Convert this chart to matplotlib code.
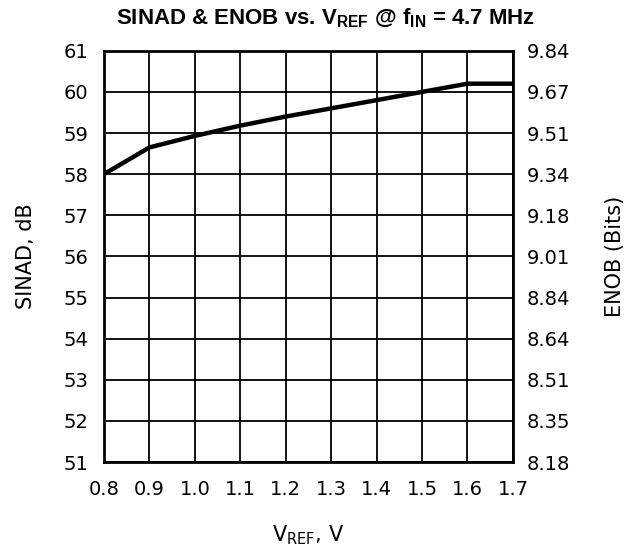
import matplotlib
matplotlib.use('Agg')
import matplotlib.pyplot as plt

# Data
vref = [0.8, 0.9, 1.0, 1.1, 1.2, 1.3, 1.4, 1.5, 1.6, 1.7]
sinad = [58.0, 58.65, 58.93, 59.18, 59.4, 59.6, 59.8, 60.0, 60.2, 60.2]

x_ticks = [0.8, 0.9, 1.0, 1.1, 1.2, 1.3, 1.4, 1.5, 1.6, 1.7]
x_tick_labels = ['0.8', '0.9', '1.0', '1.1', '1.2', '1.3', '1.4', '1.5', '1.6', '1.7']
sinad_ticks = [51, 52, 53, 54, 55, 56, 57, 58, 59, 60, 61]
enob_labels = ['8.18', '8.35', '8.51', '8.64', '8.84', '9.01', '9.18', '9.34', '9.51', '9.67', '9.84']

plt.rcParams['mathtext.fontset'] = 'custom'
plt.rcParams['mathtext.rm'] = 'DejaVu Sans'
plt.rcParams['mathtext.bf'] = 'Liberation Sans:bold'

tick_font = dict(family='DejaVu Sans', size=14)
label_font = dict(family='DejaVu Sans', size=15)

fig = plt.figure(figsize=(6.41, 5.52), dpi=100)
ax = fig.add_axes([0.1622, 0.163, 0.638, 0.745])

ax.plot(vref, sinad, color='black', linewidth=3.2, solid_capstyle='butt', zorder=3)

ax.set_xlim(0.8, 1.7)
ax.set_ylim(51, 61)
ax.set_xticks(x_ticks)
ax.set_xticklabels(x_tick_labels, fontdict=tick_font)
ax.set_yticks(sinad_ticks)
ax.set_yticklabels([str(v) for v in sinad_ticks], fontdict=tick_font)
ax.tick_params(axis='both', length=0)
ax.tick_params(axis='y', pad=11)
ax.tick_params(axis='x', pad=13)
ax.grid(True, color='black', linewidth=1.3)
for sp in ax.spines.values():
    sp.set_linewidth(2)

# Right axis with ENOB labels at the same positions
ax2 = ax.twinx()
ax2.set_ylim(51, 61)
ax2.set_yticks(sinad_ticks)
ax2.set_yticklabels(enob_labels, fontdict=tick_font)
ax2.tick_params(axis='y', length=0, pad=10)
for sp in ax2.spines.values():
    sp.set_visible(False)

ax.set_ylabel('SINAD, dB', fontdict=label_font, va='center')
ax.yaxis.set_label_coords(-0.19, 0.5)
ax2.set_ylabel('ENOB (Bits)', fontdict=label_font, va='center')
ax2.yaxis.set_label_coords(1.25, 0.5)
ax.set_xlabel(r'V$_{\mathrm{REF}}$, V', fontdict=label_font, va='center')
ax.xaxis.set_label_coords(0.5, -0.178)

fig.text(0.508, 0.967, r'SINAD & ENOB vs. V$_{\mathbf{REF}}$ @ f$_{\mathbf{IN}}$ = 4.7 MHz',
         ha='center', va='center', family='Liberation Sans', weight='bold', size=16)

plt.savefig('out.png', dpi=100)
